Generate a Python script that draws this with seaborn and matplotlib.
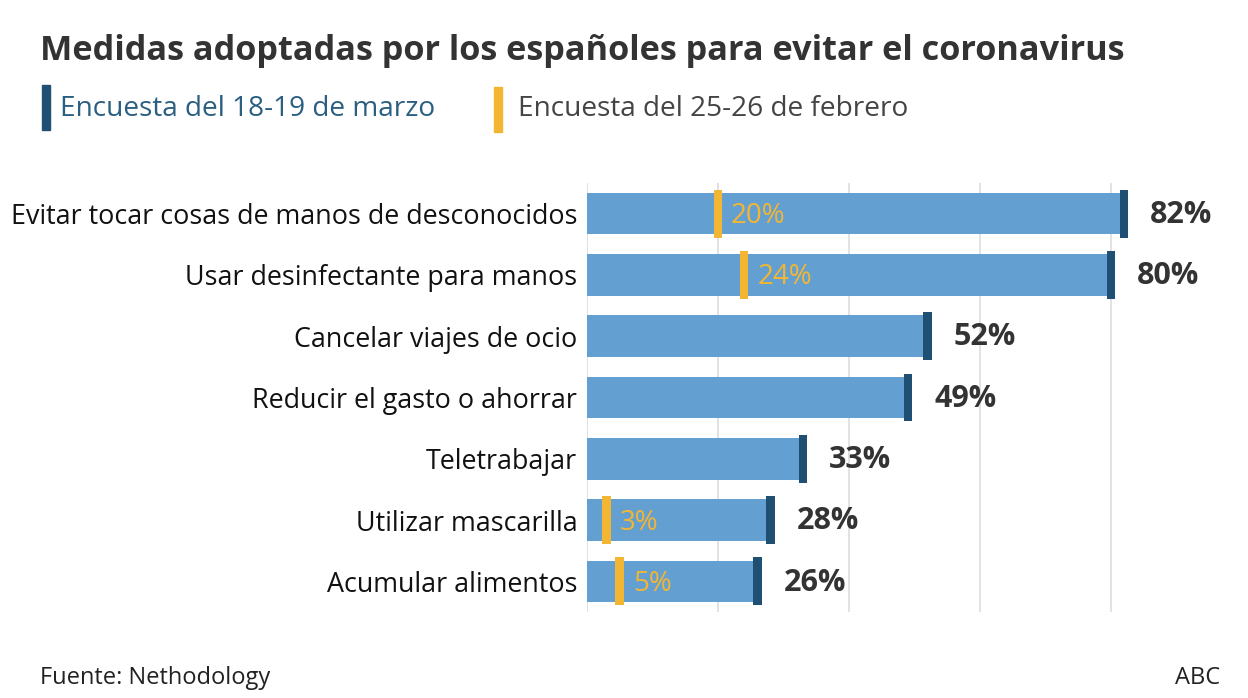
import matplotlib
matplotlib.use("Agg")
import matplotlib.pyplot as plt
import matplotlib.patches as mpatches
import pandas as pd
import seaborn as sns

# data
medidas = ["Evitar tocar cosas de manos de desconocidos",
           "Usar desinfectante para manos",
           "Cancelar viajes de ocio",
           "Reducir el gasto o ahorrar",
           "Teletrabajar",
           "Utilizar mascarilla",
           "Acumular alimentos"]
marzo = [82, 80, 52, 49, 33, 28, 26]
febrero = [20, 24, None, None, None, 3, 5]

azul = "#649fd2"
navy = "#1f5073"
amarillo = "#f2b632"
texto = "#333333"

sns.set_theme(style="white")
plt.rcParams["font.family"] = ["Open Sans", "DejaVu Sans"]

df = pd.DataFrame({"medida": medidas, "marzo": marzo, "febrero": febrero})

fig = plt.figure(figsize=(12.48, 6.98), dpi=100)
ax = fig.add_axes([587 / 1248, 1 - 612 / 698, 655 / 1248, 429 / 698])

sns.barplot(data=df, x="marzo", y="medida", orient="h", color=azul,
            width=0.68, saturation=1, linewidth=0, ax=ax)

mw = 1.3  # marker width in % units
ax.barh(range(len(df)), [mw] * len(df), left=df["marzo"] - mw / 2,
        height=0.78, color=navy, linewidth=0, zorder=3)
feb = df.dropna(subset=["febrero"])
ax.barh(feb.index, [mw] * len(feb), left=feb["febrero"] - mw / 2,
        height=0.78, color=amarillo, linewidth=0, zorder=3)

for i, row in df.iterrows():
    ax.text(row["marzo"] + 4, i + 0.02, f"{row['marzo']:.0f}%", va="center", ha="left",
            fontsize=22, fontweight="bold", color=texto)
    if pd.notna(row["febrero"]):
        ax.text(row["febrero"] + 2, i + 0.04, f"{row['febrero']:.0f}%", va="center",
                ha="left", fontsize=20, color=amarillo, zorder=4)

ax.set_xlim(0, 100)
ax.set_ylim(6.5, -0.5)
ax.set_xticks([0, 20, 40, 60, 80])
ax.set_xticklabels([])
ax.grid(axis="x", color="#dddddd", linewidth=1.2)
ax.set_axisbelow(True)
ax.tick_params(axis="x", length=0)
ax.tick_params(axis="y", length=0, pad=7, labelsize=19.4, labelcolor="#111111")
ax.set_xlabel("")
ax.set_ylabel("")
for s in ax.spines.values():
    s.set_visible(False)

# title, legend, footer
fig.text(40 / 1248, 1 - 51 / 698, "Medidas adoptadas por los españoles para evitar el coronavirus",
         fontsize=24.7, fontweight="bold", color=texto, va="center", ha="left")
fig.patches.append(mpatches.Rectangle((42 / 1248, 1 - 130 / 698), 8 / 1248, 45 / 698,
                                      transform=fig.transFigure, color=navy))
fig.text(60 / 1248, 1 - 109 / 698, "Encuesta del 18-19 de marzo", fontsize=20.2,
         color="#2b5f82", va="center", ha="left")
fig.patches.append(mpatches.Rectangle((494 / 1248, 1 - 132 / 698), 8 / 1248, 45 / 698,
                                      transform=fig.transFigure, color=amarillo))
fig.text(518 / 1248, 1 - 109 / 698, "Encuesta del 25-26 de febrero", fontsize=20.2,
         color="#444444", va="center", ha="left")

fig.text(40 / 1248, 1 - 678 / 698, "Fuente: Nethodology", fontsize=17,
         color="#222222", va="center", ha="left")
fig.text(1220 / 1248, 1 - 678 / 698, "ABC", fontsize=17,
         color="#222222", va="center", ha="right")

fig.savefig("out.png", dpi=100, facecolor="white")
